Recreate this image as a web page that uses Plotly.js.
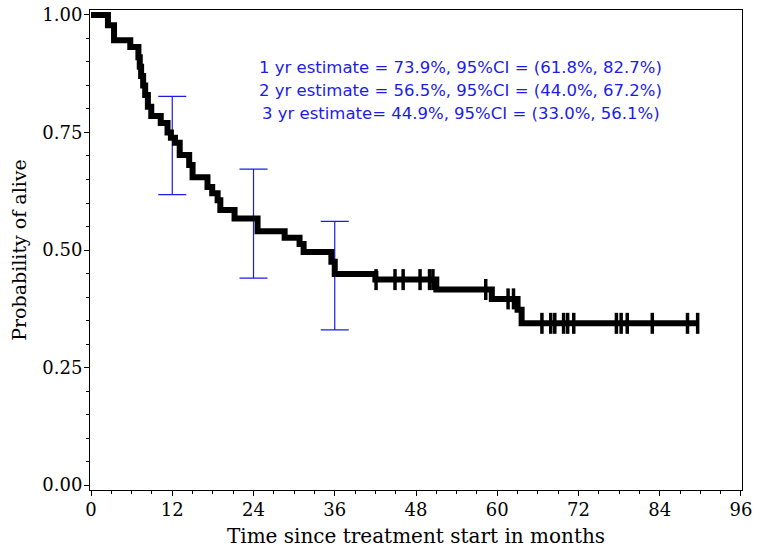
<!DOCTYPE html>
<html><head><meta charset="utf-8">
<script src="https://cdn.plot.ly/plotly-3.0.1.min.js"></script>
<style>html,body{margin:0;padding:0;background:#fff}</style>
</head><body>
<div id="chart" style="width:763px;height:553px"></div>
<script>
// Kaplan-Meier step curve (time in months, survival after the drop)
const eventTimes = [0, 2.5, 3.4, 5.8, 7.0, 7.2, 7.4, 7.7, 8.0, 8.4, 8.9, 10.3, 11.3, 11.8, 12.4, 13.1, 14.5, 15.0, 17.2, 17.9, 18.7, 19.1, 21.2, 24.6, 28.6, 30.8, 31.4, 35.5, 36.0, 42.0, 51.0, 59.2, 63.0, 63.6];
const survival = [1.000, 0.978, 0.946, 0.932, 0.910, 0.890, 0.870, 0.850, 0.830, 0.805, 0.785, 0.770, 0.750, 0.739, 0.728, 0.702, 0.681, 0.655, 0.634, 0.621, 0.606, 0.585, 0.567, 0.540, 0.526, 0.513, 0.496, 0.475, 0.449, 0.437, 0.416, 0.396, 0.373, 0.344];
const lastFollowUp = 89.8;
// censored observations
const censorTimes = [42.1, 44.9, 46.1, 48.6, 50.0, 50.5, 58.3, 61.6, 62.4, 66.6, 67.9, 68.5, 69.8, 70.4, 71.3, 77.6, 78.3, 79.2, 82.9, 88.1, 89.6];
// yearly estimates with 95% CI
const ciTimes = [12, 24, 36];
const ciEstimate = [0.739, 0.565, 0.449];
const ciLower = [0.618, 0.440, 0.330];
const ciUpper = [0.827, 0.672, 0.561];
const estimateLines = [
  "1 yr estimate = 73.9%, 95%CI = (61.8%, 82.7%)",
  "2 yr estimate = 56.5%, 95%CI = (44.0%, 67.2%)",
  "3 yr estimate= 44.9%, 95%CI = (33.0%, 56.1%)"
];
const xTicks = [0, 12, 24, 36, 48, 60, 72, 84, 96];
const yTicks = [0, 0.25, 0.5, 0.75, 1.0];

function survAt(t) {
  let s = survival[0];
  for (let i = 0; i < eventTimes.length; i++) { if (eventTimes[i] <= t) s = survival[i]; }
  return s;
}

const curveX = eventTimes.concat([lastFollowUp]);
const curveY = survival.concat([survival[survival.length - 1]]);

const blue = '#1c1ce8';
const serif = 'DejaVu Serif, serif';

const traces = [
  {
    x: ciTimes, y: ciEstimate, type: 'scatter', mode: 'markers',
    marker: {size: 1, opacity: 0},
    error_y: {type: 'data', symmetric: false,
      array: ciUpper.map((u, i) => u - ciEstimate[i]),
      arrayminus: ciLower.map((l, i) => ciEstimate[i] - l),
      color: blue, thickness: 1.2, width: 14},
    hoverinfo: 'skip', showlegend: false
  },
  {
    x: curveX, y: curveY, type: 'scatter', mode: 'lines',
    line: {shape: 'hv', color: '#000', width: 6},
    showlegend: false
  },
  {
    x: censorTimes, y: censorTimes.map(survAt), type: 'scatter', mode: 'markers',
    marker: {symbol: 'line-ns-open', size: 15, color: '#000', line: {color: '#000', width: 3.5}},
    showlegend: false
  }
];

const annYpx = [0.889, 0.840, 0.791];
const annotations = estimateLines.map((t, i) => ({
  x: 54.6, y: annYpx[i], xref: 'x', yref: 'y', text: t, showarrow: false,
  xanchor: 'center', yanchor: 'middle',
  font: {family: 'DejaVu Sans, sans-serif', size: 16.5, color: blue}
}));

const layout = {
  width: 763, height: 553,
  margin: {l: 90, r: 21, t: 10, b: 63},
  paper_bgcolor: '#fff', plot_bgcolor: '#fff',
  showlegend: false,
  xaxis: {
    range: [-0.15, 96.15], tickvals: xTicks, ticktext: xTicks.map(String),
    ticks: 'outside', ticklen: 5, tickwidth: 1, tickcolor: '#000',
    minor: {dtick: 3, tick0: 0, ticks: 'outside', ticklen: 3, tickcolor: '#000'},
    showgrid: false, zeroline: false, showline: true, linecolor: '#000', linewidth: 1, mirror: true,
    tickfont: {family: serif, size: 18, color: '#000'}, ticklabelstandoff: -2,
    title: {text: 'Time since treatment start in months', font: {family: serif, size: 20, color: '#000'}, standoff: 10}
  },
  yaxis: {
    range: [-0.0106, 1.0106], tickvals: yTicks, ticktext: yTicks.map(v => v.toFixed(2)),
    ticks: 'outside', ticklen: 5, tickwidth: 1, tickcolor: '#000',
    minor: {dtick: 0.05, tick0: 0, ticks: 'outside', ticklen: 3, tickcolor: '#000'},
    showgrid: false, zeroline: false, showline: true, linecolor: '#000', linewidth: 1, mirror: true,
    tickfont: {family: serif, size: 18, color: '#000'}, ticklabelstandoff: -2,
    title: {text: 'Probability of alive', font: {family: serif, size: 19, color: '#000'}, standoff: 10}
  },
  annotations: annotations
};

Plotly.newPlot('chart', traces, layout, {displayModeBar: false, staticPlot: true});
</script>
</body></html>
